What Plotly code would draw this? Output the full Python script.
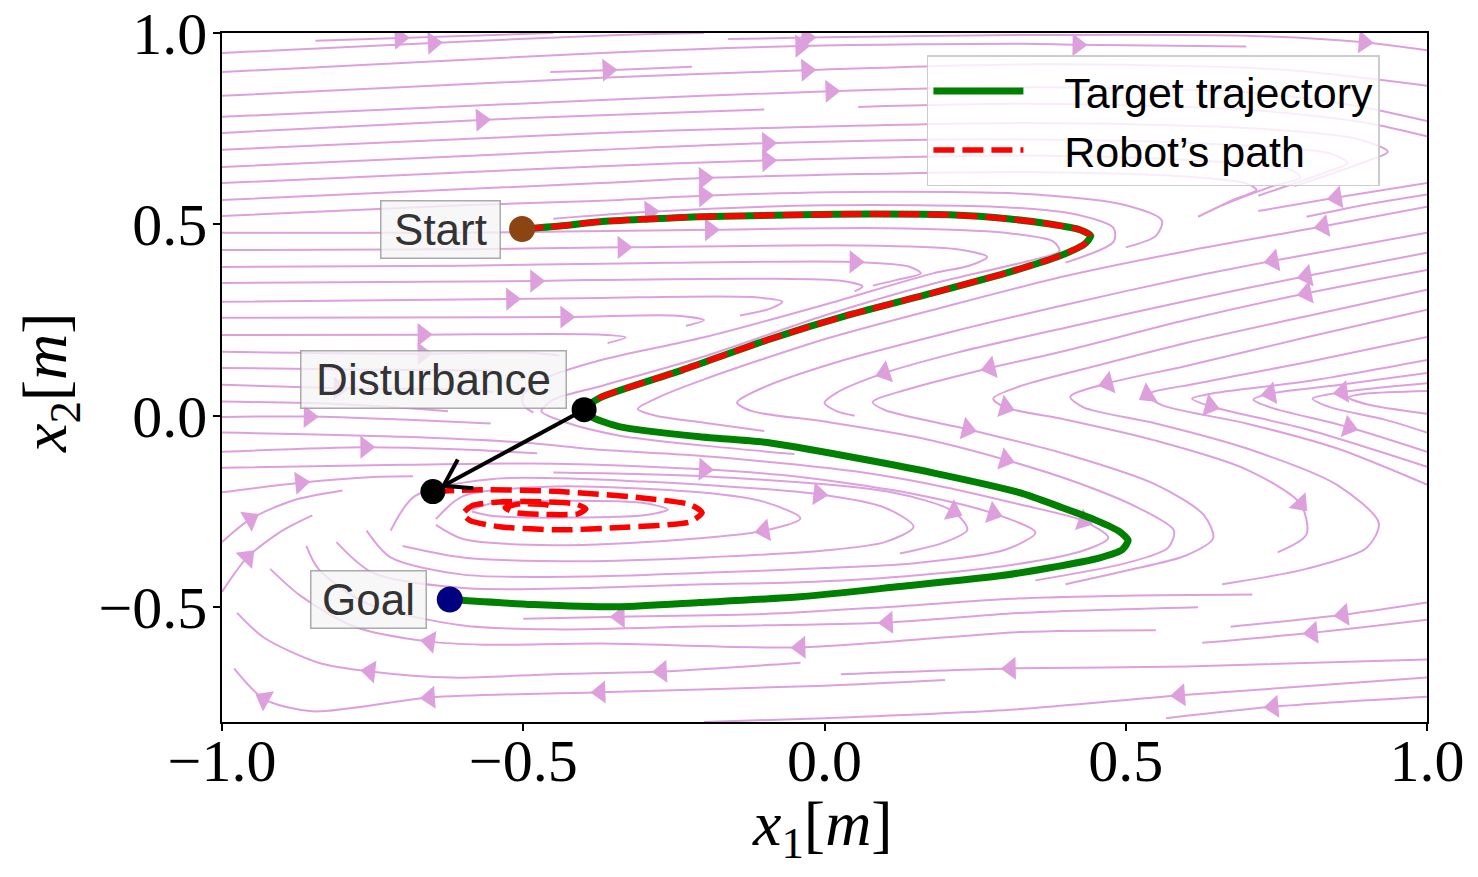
import math
import plotly.graph_objects as go

# axes
x_range = [-1.0, 1.0]
y_range = [-0.8, 1.0]
x_ticks = [-1.0, -0.5, 0.0, 0.5, 1.0]
x_tick_text = ["\u22121.0", "\u22120.5", "0.0", "0.5", "1.0"]
y_ticks = [-0.5, 0.0, 0.5, 1.0]
y_tick_text = ["\u22120.5", "0.0", "0.5", "1.0"]

# target trajectory, start -> goal
target_x = [-0.502, -0.439, -0.373, -0.290, -0.207, -0.041, 0.076, 0.208, 0.308, 0.374, 0.424, 0.442, 0.432, 0.391,
            0.308, 0.180, 0.042, -0.095, -0.235, -0.373, -0.399,
            -0.384, -0.339, -0.207, -0.095, 0.042, 0.180, 0.324, 0.391, 0.449, 0.490, 0.504, 0.494, 0.457, 0.374,
            0.291, 0.125, -0.041, -0.207, -0.339, -0.484, -0.622]
target_y = [0.488, 0.496, 0.507, 0.514, 0.520, 0.525, 0.527, 0.525, 0.514, 0.501, 0.486, 0.470, 0.449, 0.418,
            0.376, 0.321, 0.264, 0.198, 0.120, 0.047, 0.016,
            -0.005, -0.029, -0.055, -0.070, -0.107, -0.149, -0.201, -0.238, -0.272, -0.303, -0.326, -0.350, -0.371,
            -0.397, -0.418, -0.446, -0.473, -0.488, -0.499, -0.493, -0.480]
push_index = 20  # robot follows the target up to here

# robot path after the push
spiral_x = [-0.650, -0.572, -0.439, -0.306, -0.223, -0.203, -0.223, -0.339, -0.439, -0.539, -0.588, -0.600,
            -0.585, -0.539, -0.464, -0.414, -0.396, -0.409, -0.456, -0.514, -0.530, -0.505, -0.464, -0.450]
spiral_y = [-0.198, -0.193, -0.198, -0.214, -0.232, -0.253, -0.277, -0.292, -0.298, -0.290, -0.274, -0.256,
            -0.235, -0.225, -0.225, -0.230, -0.243, -0.256, -0.258, -0.253, -0.240, -0.230, -0.232, -0.238]

start_pt = (-0.502, 0.488)
goal_pt = (-0.622, -0.480)
push_from = (-0.399, 0.016)
push_to = (-0.650, -0.198)

# background streamlines, each listed along the flow
top_lines = [
    [[-1.00, 0.948], [-0.65, 0.974], [-0.34, 0.995], [-0.20, 1.000]],
    [[-0.845, 0.980], [-0.705, 0.987], [-0.45, 1.000]],
    [[-0.16, 0.984], [-0.03, 0.988], [0.33, 0.995], [0.70, 0.993], [0.895, 0.976], [1.00, 0.955]],
    [[-1.00, 0.898], [-0.37, 0.948], [-0.04, 0.966], [0.33, 0.972], [0.42, 0.969], [0.70, 0.965]],
    [[-0.455, 0.898], [-0.36, 0.903], [-0.22, 0.912]],
    [[-1.00, 0.836], [-0.37, 0.883], [-0.03, 0.903], [0.33, 0.918], [0.75, 0.905], [1.00, 0.862]],
    [[-1.00, 0.781], [-0.37, 0.825], [0.01, 0.848], [0.33, 0.858], [0.70, 0.845], [0.88, 0.81], [1.00, 0.77]],
    [[-1.00, 0.739], [-0.57, 0.773], [-0.37, 0.785], [-0.10, 0.80]],
    [[0.056, 0.807], [0.33, 0.815], [0.70, 0.80], [0.90, 0.765], [1.00, 0.73]],
    [[-1.00, 0.695], [-0.37, 0.739], [-0.095, 0.752], [0.33, 0.765], [0.70, 0.752], [0.88, 0.725], [0.935, 0.69],
     [0.90, 0.665], [0.78, 0.60]],
    [[-1.00, 0.650], [-0.37, 0.695], [-0.095, 0.712], [0.33, 0.722], [0.65, 0.71], [0.84, 0.685], [0.868, 0.66],
     [0.83, 0.635], [0.72, 0.575]],
    [[-1.00, 0.608], [-0.37, 0.652], [-0.095, 0.667], [0.33, 0.68], [0.60, 0.668], [0.77, 0.645], [0.79, 0.623],
     [0.74, 0.598], [0.66, 0.55]],
    [[-1.00, 0.564], [-0.37, 0.608], [-0.20, 0.621], [0.33, 0.637], [0.60, 0.625], [0.70, 0.607], [0.717, 0.59],
     [0.68, 0.565], [0.62, 0.52]],
    [[-1.00, 0.522], [-0.60, 0.55], [-0.37, 0.562], [-0.20, 0.575], [0.10, 0.585], [0.35, 0.578], [0.50, 0.55],
     [0.56, 0.51], [0.55, 0.47], [0.50, 0.44]],
    [[-0.45, 0.515], [-0.29, 0.533], [0.00, 0.55], [0.30, 0.545], [0.42, 0.525], [0.48, 0.49], [0.48, 0.455],
     [0.40, 0.40]],
]
top_arrows = [[1], [1], [1, 4], [2, 4], [1], [2], [2], [1], [], [], [2], [2], [2], [3], [1]]

wedge_lines = [
    [[-1.00, 0.478], [-0.60, 0.478], [-0.40, 0.482], [-0.19, 0.486], [0.10, 0.49], [0.30, 0.478], [0.38, 0.455],
     [0.39, 0.43], [0.34, 0.405], [0.18, 0.345], [0.00, 0.262], [-0.20, 0.155], [-0.37, 0.078], [-0.45, 0.042],
     [-0.47, 0.012], [-0.43, -0.017], [-0.34, -0.052], [-0.20, -0.078], [-0.05, -0.10]],
    [[-1.00, 0.433], [-0.60, 0.435], [-0.335, 0.44], [0.05, 0.445], [0.22, 0.435], [0.27, 0.415], [0.24, 0.392],
     [0.18, 0.372], [0.00, 0.29], [-0.20, 0.205], [-0.372, 0.145], [-0.46, 0.10], [-0.50, 0.055], [-0.50, 0.028],
     [-0.483, 0.008]],
    [[-1.00, 0.389], [-0.60, 0.392], [-0.34, 0.398], [0.05, 0.402], [0.14, 0.39], [0.16, 0.372], [0.12, 0.355],
     [0.08, 0.34]],
    [[-1.00, 0.347], [-0.48, 0.352], [-0.37, 0.355], [-0.10, 0.358], [0.03, 0.352], [0.063, 0.338], [0.05, 0.325]],
    [[-1.00, 0.298], [-0.52, 0.305], [-0.37, 0.308], [-0.12, 0.31], [-0.07, 0.298], [-0.09, 0.28], [-0.14, 0.262]],
    [[-1.00, 0.256], [-0.43, 0.258], [-0.25, 0.262], [-0.20, 0.25], [-0.23, 0.235]],
    [[-1.00, 0.211], [-0.667, 0.212], [-0.37, 0.212], [-0.33, 0.205], [-0.36, 0.19]],
]
wedge_arrows = [[3], [2], [3], [1], [1], [1], [1]]

left_lines = [
    [[-1.00, 0.167], [-0.667, 0.162], [-0.50, 0.165], [-0.44, 0.158]],
    [[-1.00, 0.125], [-0.75, 0.12], [-0.55, 0.118]],
    [[-1.00, 0.081], [-0.806, 0.072], [-0.60, 0.068], [-0.55, 0.062]],
    [[-1.00, 0.037], [-0.80, 0.03], [-0.625, 0.012]],
    [[-1.00, -0.003], [-0.856, -0.002], [-0.70, -0.01], [-0.554, -0.02]],
    [[-1.00, -0.094], [-0.762, -0.082], [-0.60, -0.088], [-0.477, -0.098]],
]
left_arrows = [[1], [], [1], [], [1], [1]]

lower_lines = [
    [[-1.00, -0.044], [-0.70, -0.055], [-0.50, -0.07], [-0.372, -0.089], [-0.23, -0.102], [-0.095, -0.12],
     [0.05, -0.145], [0.18, -0.18], [0.325, -0.232], [0.43, -0.275], [0.471, -0.319], [0.43, -0.352],
     [0.31, -0.39], [0.13, -0.42], [-0.04, -0.435], [-0.20, -0.44], [-0.40, -0.45], [-0.60, -0.45],
     [-0.75, -0.41], [-0.81, -0.33]],
    [[-1.00, -0.136], [-0.70, -0.128], [-0.45, -0.125], [-0.20, -0.14], [-0.04, -0.16], [0.15, -0.205],
     [0.28, -0.255], [0.35, -0.305], [0.30, -0.35], [0.15, -0.385], [0.00, -0.398], [-0.20, -0.41],
     [-0.40, -0.42], [-0.60, -0.415], [-0.72, -0.37], [-0.76, -0.30]],
    [[-0.45, -0.148], [-0.20, -0.158], [0.105, -0.198], [0.214, -0.25], [0.237, -0.298], [0.20, -0.33],
     [0.125, -0.36]],
    [[-0.72, -0.30], [-0.68, -0.21], [-0.55, -0.165], [-0.30, -0.172], [-0.01, -0.205], [0.10, -0.24],
     [0.148, -0.29], [0.10, -0.33], [0.00, -0.352], [-0.20, -0.37], [-0.40, -0.38], [-0.60, -0.37], [-0.70, -0.34]],
    [[-0.645, -0.27], [-0.60, -0.21], [-0.45, -0.185], [-0.207, -0.2], [-0.10, -0.225], [-0.04, -0.268],
     [-0.10, -0.30], [-0.25, -0.325], [-0.45, -0.338], [-0.60, -0.322], [-0.645, -0.285]],
    [[-0.585, -0.245], [-0.55, -0.228], [-0.42, -0.222], [-0.30, -0.228], [-0.26, -0.245], [-0.30, -0.26],
     [-0.42, -0.266], [-0.55, -0.262], [-0.585, -0.25]],
]
lower_arrows = [[9], [3, 6], [3], [4], [6], []]

right_lines = [
    [[1.00, 0.608], [0.85, 0.57], [0.72, 0.535]],
    [[1.00, 0.578], [0.90, 0.552], [0.80, 0.52]],
    [[1.00, 0.546], [0.828, 0.495], [0.60, 0.43], [0.40, 0.365], [0.20, 0.285], [0.00, 0.20], [-0.20, 0.095],
     [-0.28, 0.045], [-0.31, 0.018], [-0.28, 0.00], [-0.20, -0.018], [-0.10, -0.04]],
    [[1.00, 0.478], [0.745, 0.405], [0.60, 0.36], [0.40, 0.29], [0.20, 0.215], [0.02, 0.14], [-0.10, 0.075],
     [-0.145, 0.035], [-0.12, 0.012], [0.00, -0.015], [0.15, -0.055], [0.30, -0.115], [0.42, -0.175],
     [0.52, -0.24], [0.58, -0.30], [0.57, -0.345], [0.50, -0.385], [0.35, -0.43]],
    [[1.00, 0.426], [0.80, 0.365], [0.60, 0.30], [0.40, 0.23], [0.22, 0.165], [0.10, 0.112], [0.02, 0.06],
     [0.00, 0.034], [0.02, 0.012], [0.05, 0.00]],
    [[1.00, 0.381], [0.80, 0.32], [0.60, 0.25], [0.40, 0.17], [0.275, 0.125], [0.14, 0.07], [0.08, 0.036],
     [0.10, 0.015], [0.237, -0.035], [0.40, -0.10], [0.55, -0.18], [0.63, -0.26], [0.645, -0.32], [0.60, -0.365],
     [0.50, -0.405], [0.40, -0.44]],
    [[1.00, 0.329], [0.80, 0.26], [0.60, 0.19], [0.45, 0.13], [0.33, 0.08], [0.28, 0.045], [0.30, 0.022],
     [0.40, -0.01], [0.55, -0.065], [0.70, -0.14], [0.79, -0.23], [0.80, -0.31], [0.752, -0.357]],
    [[1.00, 0.277], [0.80, 0.205], [0.60, 0.13], [0.47, 0.085], [0.408, 0.05], [0.43, 0.022], [0.55, -0.02],
     [0.70, -0.085], [0.85, -0.18], [0.92, -0.28], [0.90, -0.345], [0.80, -0.40], [0.66, -0.44]],
    [[1.00, 0.206], [0.80, 0.14], [0.62, 0.085], [0.536, 0.055], [0.56, 0.028], [0.70, -0.02], [0.85, -0.085],
     [1.00, -0.18]],
    [[1.00, 0.146], [0.80, 0.09], [0.65, 0.06], [0.61, 0.045], [0.64, 0.025], [0.80, -0.035], [1.00, -0.133]],
    [[1.00, 0.112], [0.85, 0.08], [0.74, 0.058], [0.712, 0.042], [0.74, 0.022], [0.87, -0.03], [1.00, -0.094]],
    [[1.00, 0.085], [0.86, 0.062], [0.81, 0.045], [0.84, 0.022], [0.93, -0.01], [1.00, -0.044]],
    [[1.00, 0.065], [0.90, 0.058], [0.87, 0.048], [0.90, 0.03], [1.00, 0.005]],
]
right_arrows = [[1], [], [1], [1, 11], [1, 5], [1, 4, 8], [6, 10], [3], [3], [4], [2, 5], [1], []]

bottom_lines = [
    [[0.71, -0.467], [0.50, -0.47], [0.31, -0.478], [0.10, -0.50], [-0.10, -0.518], [-0.34, -0.525], [-0.50, -0.53]],
    [[1.00, -0.488], [0.861, -0.52], [0.674, -0.551]],
    [[1.00, -0.533], [0.81, -0.567], [0.627, -0.593]],
    [[0.62, -0.50], [0.325, -0.515], [0.105, -0.54], [-0.20, -0.55], [-0.45, -0.558], [-0.60, -0.548],
     [-0.76, -0.49], [-0.84, -0.40], [-0.86, -0.34]],
    [[0.55, -0.56], [0.325, -0.565], [-0.04, -0.605], [-0.37, -0.595], [-0.567, -0.598], [-0.655, -0.59],
     [-0.78, -0.551], [-0.87, -0.47], [-0.92, -0.40]],
    [[1.00, -0.637], [0.60, -0.655], [0.309, -0.66], [0.027, -0.675]],
    [[-0.04, -0.645], [-0.27, -0.668], [-0.45, -0.675], [-0.617, -0.684], [-0.754, -0.668], [-0.84, -0.645],
     [-0.93, -0.58], [-0.975, -0.515]],
    [[1.00, -0.684], [0.59, -0.73], [0.309, -0.768], [0.00, -0.79], [-0.20, -0.80]],
    [[1.00, -0.734], [0.745, -0.76], [0.567, -0.79]],
    [[0.20, -0.69], [0.00, -0.705], [-0.372, -0.722], [-0.655, -0.736], [-0.85, -0.772], [-0.93, -0.74],
     [-0.98, -0.66]],
]
bottom_arrows = [[5], [1], [1], [2], [2, 5], [2], [1, 4], [1], [1], [2, 3, 5]]

arc_lines = [
    [[-1.00, -0.20], [-0.87, -0.175], [-0.75, -0.16], [-0.683, -0.158]],
    [[-1.00, -0.33], [-0.953, -0.27], [-0.88, -0.22], [-0.80, -0.195]],
    [[-1.00, -0.46], [-0.958, -0.37], [-0.90, -0.30], [-0.85, -0.26]],
]
arc_arrows = [[1], [1], [1]]

# figure geometry (the page adds an 8px body margin)
W, H = 1470, 869
M_L, M_R, M_T, M_B = 214, 51, 25, 155
px_per_x = (W - M_L - M_R) / (x_range[1] - x_range[0])
px_per_y = (H - M_T - M_B) / (y_range[1] - y_range[0])

PLUM = "#DDA0DD"
groups = [(top_lines, top_arrows), (wedge_lines, wedge_arrows), (left_lines, left_arrows),
          (lower_lines, lower_arrows), (right_lines, right_arrows), (bottom_lines, bottom_arrows),
          (arc_lines, arc_arrows)]

sl_x, sl_y = [], []
ar_x, ar_y, ar_ang = [], [], []
for lines, arrows in groups:
    for pts, idxs in zip(lines, arrows):
        sl_x += [p[0] for p in pts] + [None]
        sl_y += [p[1] for p in pts] + [None]
        for i in idxs:
            a = pts[max(i - 1, 0)]
            b = pts[min(i + 1, len(pts) - 1)]
            dx = (b[0] - a[0]) * px_per_x
            dy = (b[1] - a[1]) * px_per_y
            ar_x.append(pts[i][0])
            ar_y.append(pts[i][1])
            ar_ang.append(math.degrees(math.atan2(dx, dy)))

# push arrow: shaft ends at the edge of the landing dot, open head of two strokes
dxp = (push_to[0] - push_from[0]) * px_per_x
dyp = (push_to[1] - push_from[1]) * px_per_y
L = math.hypot(dxp, dyp)
ux, uy = dxp / L, dyp / L
tip = (push_to[0] - ux * 12 / px_per_x, push_to[1] - uy * 12 / px_per_y)
arrow_x = [push_from[0], tip[0], None]
arrow_y = [push_from[1], tip[1], None]
for th in (math.radians(33), math.radians(-33)):
    bx = -ux * math.cos(th) + uy * math.sin(th)
    by = -ux * math.sin(th) - uy * math.cos(th)
    arrow_x += [tip[0], tip[0] + bx * 30 / px_per_x, None]
    arrow_y += [tip[1], tip[1] + by * 30 / px_per_y, None]

fig = go.Figure()

fig.add_trace(go.Scatter(x=sl_x, y=sl_y, mode="lines", line=dict(color=PLUM, width=2, shape="spline", smoothing=0.8),
                         connectgaps=False, showlegend=False, hoverinfo="skip"))
fig.add_trace(go.Scatter(x=ar_x, y=ar_y, mode="markers", showlegend=False, hoverinfo="skip",
                         marker=dict(symbol="triangle-up", size=20, color=PLUM, angle=ar_ang, line=dict(width=0))))

fig.add_trace(go.Scatter(x=target_x, y=target_y, mode="lines", name="\u00a0\u00a0\u00a0Target trajectory",
                         line=dict(color="green", width=7, shape="spline", smoothing=0.6)))

robot_x = target_x[:push_index + 1] + [None] + spiral_x
robot_y = target_y[:push_index + 1] + [None] + spiral_y
fig.add_trace(go.Scatter(x=robot_x, y=robot_y, mode="lines", name="\u00a0\u00a0\u00a0Robot\u2019s path",
                         connectgaps=False,
                         line=dict(color="red", width=5.5, dash="21px,8px", shape="spline", smoothing=0.6)))

fig.add_trace(go.Scatter(x=arrow_x, y=arrow_y, mode="lines", line=dict(color="black", width=4),
                         connectgaps=False, showlegend=False, hoverinfo="skip"))

fig.add_trace(go.Scatter(x=[push_from[0], push_to[0]], y=[push_from[1], push_to[1]], mode="markers",
                         marker=dict(color="black", size=25), showlegend=False, hoverinfo="skip"))
fig.add_trace(go.Scatter(x=[start_pt[0]], y=[start_pt[1]], mode="markers",
                         marker=dict(color="#8B4513", size=26), showlegend=False, hoverinfo="skip"))
fig.add_trace(go.Scatter(x=[goal_pt[0]], y=[goal_pt[1]], mode="markers",
                         marker=dict(color="#000080", size=26), showlegend=False, hoverinfo="skip"))

label_font = dict(family="Liberation Sans, Arial, sans-serif", size=44, color="#333333")
for txt, lx, ly, bw in [("Start", -0.637, 0.486, 116), ("Disturbance", -0.649, 0.094, 262),
                        ("Goal", -0.757, -0.480, 112)]:
    fig.add_annotation(x=lx, y=ly, xref="x", yref="y", text=txt, showarrow=False, font=label_font,
                       width=bw, height=54, bgcolor="rgba(245,245,245,0.8)",
                       bordercolor="rgba(150,150,150,0.8)", borderwidth=1.5, borderpad=1)

# axis titles
title_font = dict(family="Liberation Serif, DejaVu Serif, serif", size=64, color="black")
fig.add_annotation(x=0.498, y=-0.154, xref="paper", yref="paper", xanchor="center", yanchor="middle",
                   text="<i>x</i><sub>1</sub>[<i>m</i>]", showarrow=False, font=title_font)
fig.add_annotation(x=-0.143, y=0.493, xref="paper", yref="paper", xanchor="center", yanchor="middle",
                   text="<i>x</i><sub>2</sub>[<i>m</i>]", showarrow=False, font=title_font, textangle=-90)

axis_font = dict(family="Liberation Serif, DejaVu Serif, serif", size=60, color="black")
fig.update_xaxes(range=x_range, tickvals=x_ticks, ticktext=x_tick_text, tickfont=axis_font,
                 ticks="outside", ticklen=7, tickwidth=1.5, tickcolor="black", ticklabelstandoff=-22,
                 ticklabeloverflow="allow",
                 showline=True, linecolor="black", linewidth=1.5, mirror=True,
                 showgrid=False, zeroline=False, automargin=False)
fig.update_yaxes(range=y_range, tickvals=y_ticks, ticktext=y_tick_text, tickfont=axis_font,
                 ticks="outside", ticklen=7, tickwidth=1.5, tickcolor="black", ticklabelstandoff=-6,
                 ticklabeloverflow="allow",
                 showline=True, linecolor="black", linewidth=1.5, mirror=True,
                 showgrid=False, zeroline=False, automargin=False)

fig.update_layout(
    width=W, height=H,
    margin=dict(l=M_L, r=M_R, t=M_T, b=M_B),
    plot_bgcolor="white", paper_bgcolor="white",
    legend=dict(x=0.585, y=0.968, xanchor="left", yanchor="top",
                font=dict(family="Liberation Sans, Arial, sans-serif", size=43, color="black"),
                bgcolor="rgba(255,255,255,0.8)", bordercolor="#cccccc", borderwidth=1.5,
                itemwidth=90),
)

fig.write_html("out.html")
